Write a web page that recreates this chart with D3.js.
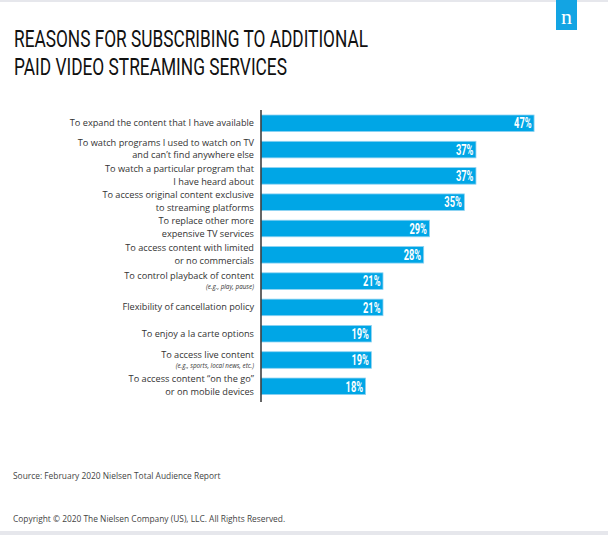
<!DOCTYPE html>
<html>
<head>
<meta charset="utf-8">
<script src="https://cdn.jsdelivr.net/npm/d3@7"></script>
<style>
  html, body { margin: 0; padding: 0; background: #fff; }
  svg { display: block; }
</style>
</head>
<body>
<svg id="chart" width="608" height="535"></svg>
<script>
const titleLines = ["REASONS FOR SUBSCRIBING TO ADDITIONAL", "PAID VIDEO STREAMING SERVICES"];
const categories = [
  ["To expand the content that I have available"],
  ["To watch programs I used to watch on TV", "and can\u2019t find anywhere else"],
  ["To watch a particular program that", "I have heard about"],
  ["To access original content exclusive", "to streaming platforms"],
  ["To replace other more", "expensive TV services"],
  ["To access content with limited", "or no commercials"],
  ["To control playback of content"],
  ["Flexibility of cancellation policy"],
  ["To enjoy a la carte options"],
  ["To access live content"],
  ["To access content \u201con the go\u201d", "or on mobile devices"]
];
const subNotes = ["", "", "", "", "", "", "(e.g., play, pause)", "", "", "(e.g., sports, local news, etc.)", ""];
const values = [47, 37, 37, 35, 29, 28, 21, 21, 19, 19, 18];
const sourceText = "Source: February 2020 Nielsen Total Audience Report";
const copyrightText = "Copyright \u00a9 2020 The Nielsen Company (US), LLC. All Rights Reserved.";

const svg = d3.select("#chart");
const blue = "#00a6e6";

// top and bottom grey bands
svg.append("rect").attr("x", 0).attr("y", 0).attr("width", 608).attr("height", 2).attr("fill", "#e6e7ec");
svg.append("rect").attr("x", 0).attr("y", 531).attr("width", 608).attr("height", 4).attr("fill", "#e6e7ec");

// logo
svg.append("rect").attr("x", 556).attr("y", 0).attr("width", 21).attr("height", 30).attr("fill", "#13a4e3");
svg.append("text").attr("x", 566.5).attr("y", 24).attr("text-anchor", "middle")
  .attr("font-family", "Liberation Serif, DejaVu Serif, serif").attr("font-size", 22)
  .attr("fill", "#fff").text("n");

// title
const titleY = [47, 75];
const titleW = [354, 273];
titleLines.forEach((t, i) => {
  svg.append("text").attr("x", 14).attr("y", titleY[i])
    .attr("font-family", "Roboto, sans-serif").attr("font-size", 24)
    .attr("fill", "#111")
    .attr("textLength", titleW[i]).attr("lengthAdjust", "spacingAndGlyphs")
    .text(t);
});

const x = d3.scaleLinear().domain([0, 50]).range([261, 261 + 5.81 * 50]);
const idx = d3.range(categories.length);
const y = d3.scaleBand().domain(idx).range([115, 394.6]).paddingInner(0.37).paddingOuter(0);

const g = svg.append("g");

// bars
g.selectAll("rect.bar").data(idx).join("rect")
  .attr("class", "bar")
  .attr("x", x(0))
  .attr("y", d => y(d))
  .attr("width", d => x(values[d]) - x(0))
  .attr("height", y.bandwidth())
  .attr("fill", blue)
  .attr("stroke", "#8fd3f2").attr("stroke-width", 0.8);

// value labels
g.selectAll("text.val").data(idx).join("text")
  .attr("class", "val")
  .attr("x", d => x(values[d]) - 2.5)
  .attr("y", d => y(d) + y.bandwidth() / 2 + 5.2)
  .attr("text-anchor", "end")
  .attr("font-family", "Roboto, sans-serif").attr("font-weight", 700).attr("font-size", 14.5)
  .attr("fill", "#fff")
  .text(d => values[d] + "%")
  .each(function() {
    const w = this.getComputedTextLength();
    d3.select(this).attr("textLength", w * 0.64).attr("lengthAdjust", "spacingAndGlyphs");
  });

// category labels
const lx = 254;
idx.forEach(d => {
  const c = y(d) + y.bandwidth() / 2;
  const lines = categories[d];
  const note = subNotes[d];
  const t = g.append("text").attr("text-anchor", "end")
    .attr("font-family", "Open Sans, sans-serif").attr("font-size", 9.2).attr("fill", "#333");
  if (lines.length === 2) {
    lines.forEach((s, j) => {
      t.append("tspan").attr("x", lx).attr("y", c - 4 + j * 12.7).text(s);
    });
  } else if (note) {
    t.append("tspan").attr("x", lx).attr("y", c - 2.5).text(lines[0]);
    t.append("tspan").attr("x", lx).attr("y", c + 7.5)
      .attr("font-style", "italic").attr("font-size", 6.3).text(note);
  } else {
    t.append("tspan").attr("x", lx).attr("y", c + 3).text(lines[0]);
  }
});

// axis line
svg.append("line").attr("x1", 261).attr("x2", 261).attr("y1", 110).attr("y2", 402)
  .attr("stroke", "#333").attr("stroke-width", 1.5);

// footer
svg.append("text").attr("x", 13).attr("y", 479)
  .attr("font-family", "Open Sans, sans-serif").attr("font-size", 8.4).attr("fill", "#444").text(sourceText);
svg.append("text").attr("x", 13).attr("y", 522)
  .attr("font-family", "Open Sans, sans-serif").attr("font-size", 8.4).attr("fill", "#444").text(copyrightText);
</script>
</body>
</html>
